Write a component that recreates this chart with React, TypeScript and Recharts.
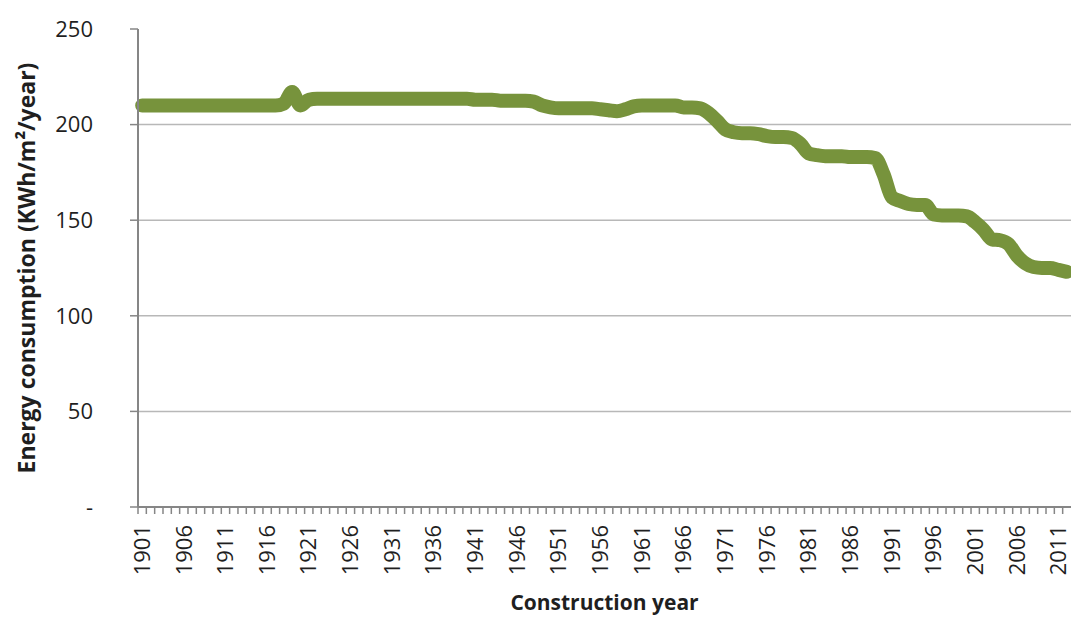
import React from 'react'
import { LineChart, Line, XAxis, YAxis, CartesianGrid, Label } from 'recharts'

const years = [
  1901, 1902, 1903, 1904, 1905, 1906, 1907, 1908, 1909, 1910,
  1911, 1912, 1913, 1914, 1915, 1916, 1917, 1918, 1919, 1920,
  1921, 1922, 1923, 1924, 1925, 1926, 1927, 1928, 1929, 1930,
  1931, 1932, 1933, 1934, 1935, 1936, 1937, 1938, 1939, 1940,
  1941, 1942, 1943, 1944, 1945, 1946, 1947, 1948, 1949, 1950,
  1951, 1952, 1953, 1954, 1955, 1956, 1957, 1958, 1959, 1960,
  1961, 1962, 1963, 1964, 1965, 1966, 1967, 1968, 1969, 1970,
  1971, 1972, 1973, 1974, 1975, 1976, 1977, 1978, 1979, 1980,
  1981, 1982, 1983, 1984, 1985, 1986, 1987, 1988, 1989, 1990,
  1991, 1992, 1993, 1994, 1995, 1996, 1997, 1998, 1999, 2000,
  2001, 2002, 2003, 2004, 2005, 2006, 2007, 2008, 2009, 2010,
  2011, 2012,
]

// kWh/m2/year by construction year
const consumption = [
  210, 210, 210, 210, 210, 210, 210, 210, 210, 210,
  210, 210, 210, 210, 210, 210, 210, 211, 217, 210,
  213, 213.5, 213.5, 213.5, 213.5, 213.5, 213.5, 213.5, 213.5, 213.5,
  213.5, 213.5, 213.5, 213.5, 213.5, 213.5, 213.5, 213.5, 213.5, 213.5,
  213, 213, 213, 212.5, 212.5, 212.5, 212.5, 212, 210, 209,
  208.5, 208.5, 208.5, 208.5, 208.5, 208, 207.5, 207, 208, 209.5,
  210, 210, 210, 210, 210, 209, 209, 208.5, 206, 202,
  197.5, 196, 195.5, 195.5, 195, 194, 193.5, 193.5, 193, 190,
  185, 184, 183.5, 183.5, 183.5, 183, 183, 183, 182.5, 174,
  162, 160, 158.5, 158, 158, 153, 152.5, 152.5, 152.5, 152,
  149, 145, 140, 139.5, 137.5, 131.5, 127.5, 125.5, 125, 125,
  124, 123,
]

const yTicks = [0, 50, 100, 150, 200, 250]
const gridValues = [50, 100, 150, 200]

const data = years.map((year, i) => ({ year, value: consumption[i] }))

const FONT = '"Open Sans", sans-serif'
const TEXT = '#1f1f1f'

function YearTick(props: any) {
  const { x, y, payload } = props
  const half = payload && payload.offset ? payload.offset : 0
  const show = (payload.value - 1901) % 5 === 0
  return (
    <g>
      <line x1={x - half} y1={y} x2={x - half} y2={y + 7} stroke="#868686" strokeWidth={1.5} />
      {show && (
        <text
          x={x}
          y={y + 18}
          transform={`rotate(-90 ${x} ${y + 18})`}
          textAnchor="end"
          dy="0.35em"
          fontFamily={FONT}
          fontSize={22}
          fill={TEXT}
        >
          {payload.value}
        </text>
      )}
    </g>
  )
}

function YTitle(props: any) {
  const vb = props.viewBox
  const cx = 26
  const cy = vb.y + vb.height / 2
  return (
    <text
      x={cx}
      y={cy}
      transform={`rotate(-90 ${cx} ${cy})`}
      textAnchor="middle"
      dominantBaseline="central"
      fontFamily={FONT}
      fontWeight="bold"
      fontSize={23}
      fill={TEXT}
    >
      Energy consumption (KWh/m²/year)
    </text>
  )
}

function XTitle(props: any) {
  const vb = props.viewBox
  return (
    <text
      x={vb.x + vb.width / 2}
      y={vb.y + 95}
      textAnchor="middle"
      dominantBaseline="central"
      fontFamily={FONT}
      fontWeight="bold"
      fontSize={21}
      fill={TEXT}
    >
      Construction year
    </text>
  )
}

export default function App() {
  return (
    <div style={{ position: 'absolute', left: 0, top: 0, width: 1071, height: 618, background: '#fff' }}>
      <LineChart width={1071} height={618} data={data} margin={{ top: 29, right: 0, left: 0, bottom: 0 }}>
        <CartesianGrid vertical={false} horizontalValues={gridValues} stroke="#b8b8b8" strokeWidth={1.5} />
        <XAxis
          dataKey="year"
          scale="band"
          interval={0}
          height={111}
          tick={<YearTick />}
          tickLine={false}
          tickSize={0}
          tickMargin={0}
          axisLine={{ stroke: '#868686', strokeWidth: 2 }}
        >
          <Label content={<XTitle />} />
        </XAxis>
        <YAxis
          width={138}
          domain={[0, 250]}
          ticks={yTicks}
          interval={0}
          tickFormatter={(v: number) => (v === 0 ? '-' : String(v))}
          tick={{ fontFamily: FONT, fontSize: 22, fill: TEXT }}
          tickSize={8}
          tickMargin={37}
          tickLine={{ stroke: '#868686', strokeWidth: 1.5 }}
          axisLine={{ stroke: '#868686', strokeWidth: 2 }}
        >
          <Label content={<YTitle />} />
        </YAxis>
        <Line
          type="monotone"
          dataKey="value"
          stroke="#77933c"
          strokeWidth={14}
          strokeLinecap="round"
          strokeLinejoin="round"
          dot={false}
          activeDot={false}
          isAnimationActive={false}
        />
      </LineChart>
    </div>
  )
}
